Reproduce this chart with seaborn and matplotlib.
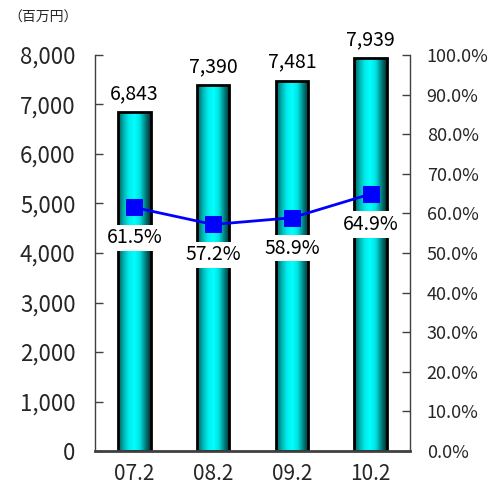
import numpy as np
import pandas as pd
import matplotlib
matplotlib.use("Agg")
import matplotlib.pyplot as plt
import seaborn as sns
from matplotlib.colors import LinearSegmentedColormap
from matplotlib.ticker import FuncFormatter, MultipleLocator, FixedLocator

categories = ["07.2", "08.2", "09.2", "10.2"]
sales = [6843, 7390, 7481, 7939]
ratio = [61.5, 57.2, 58.9, 64.9]
unit_label = "（百万円）"

sns.set_theme(style="white")
plt.rcParams['font.family'] = ['Noto Sans CJK JP', 'DejaVu Sans']

fig = plt.figure(figsize=(4.93, 4.93), dpi=100)
ax = fig.add_axes([95/493, 1-451/493, 315/493, 396/493])

df = pd.DataFrame({"cat": categories, "sales": sales})
sns.barplot(data=df, x="cat", y="sales", ax=ax, width=0.41, color="#00ffff",
            edgecolor="black", linewidth=2)

cmap = LinearSegmentedColormap.from_list(
    "bar", ["#005858", "#00b0b0", "#00ecec", "#00ffff", "#00e0e0", "#008080", "#002c2c"])
grad = np.linspace(0, 1, 256).reshape(1, -1)
for p in ax.patches:
    x0, y0 = p.get_x(), p.get_y()
    w, h = p.get_width(), p.get_height()
    im = ax.imshow(grad, cmap=cmap, aspect="auto", extent=(x0, x0 + w, y0, y0 + h),
                   zorder=1.5, interpolation="bilinear")
    im.set_clip_path(p)
    p.set_facecolor("none")
    p.set_zorder(2)
    ax.text(x0 + w / 2, y0 + h + 160, f"{int(h):,}", ha="center", va="bottom",
            fontsize=14, color="black")

ax.set_xlim(-0.5, 3.5)
ax.set_ylim(0, 8000)
ax.yaxis.set_major_locator(MultipleLocator(1000))
ax.yaxis.set_major_formatter(FuncFormatter(lambda v, _: f"{int(v):,}"))
ax.set_xlabel("")
ax.set_ylabel("")
ax.xaxis.set_minor_locator(FixedLocator([0.5, 1.5, 2.5]))
ax.tick_params(axis="x", which="major", length=0, pad=9, labelsize=15)
ax.tick_params(axis="x", which="minor", direction="in", length=6, width=1, color="#404040")
ax.tick_params(axis="y", direction="in", length=6, width=1, color="#404040", pad=14, labelsize=16)
for s in ["left", "bottom"]:
    ax.spines[s].set_color("#404040")
    ax.spines[s].set_linewidth(1)
ax.spines["top"].set_visible(False)
ax.spines["right"].set_visible(False)
ax.spines["bottom"].set_linewidth(2)

ax2 = ax.twinx()
sns.lineplot(x=categories, y=ratio, ax=ax2, color="#0000ff", linewidth=2,
             marker="s", markersize=11, markeredgecolor="#0000ff", sort=False)
ax2.set_ylim(0, 100)
ax2.yaxis.set_major_locator(MultipleLocator(10))
ax2.yaxis.set_major_formatter(FuncFormatter(lambda v, _: f"{v:.1f}%"))
ax2.tick_params(axis="y", direction="in", length=6, width=1, color="#404040", pad=12, labelsize=13)
for s in ["top", "left", "bottom"]:
    ax2.spines[s].set_visible(False)
ax2.spines["right"].set_color("#404040")
ax2.spines["right"].set_linewidth(1)
ax2.set_xlim(-0.5, 3.5)

for i, v in enumerate(ratio):
    ax2.text(i, v - 5.0, f"{v:.1f}%", ha="center", va="top", fontsize=14, color="black",
             bbox=dict(facecolor="white", edgecolor="none", pad=2), zorder=5)

fig.text(8/493, 1-18/493, unit_label, ha="left", va="center", fontsize=10)

fig.savefig("out.png", dpi=100)
